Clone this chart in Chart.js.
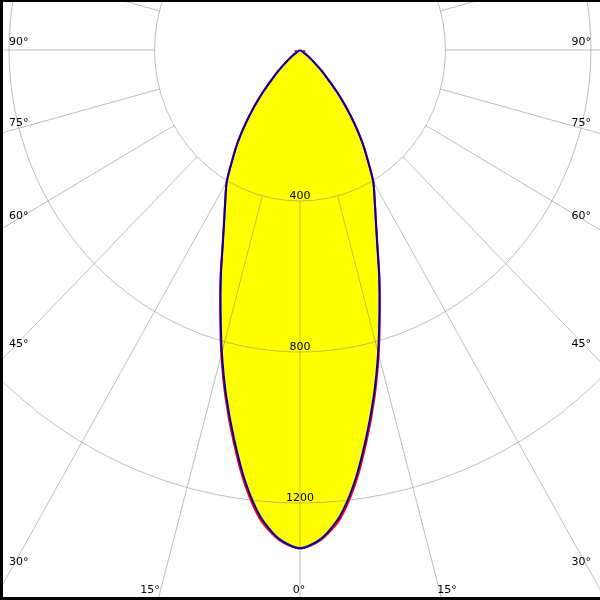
<!DOCTYPE html>
<html>
<head>
<meta charset="utf-8">
<script src="https://cdn.jsdelivr.net/npm/chart.js@4.4.1/dist/chart.umd.min.js"></script>
<style>
  html, body { margin: 0; padding: 0; background: #fff; }
  #wrap { width: 600px; height: 600px; position: relative; }
</style>
</head>
<body>
<div id="wrap"><canvas id="polar" width="600" height="600"></canvas></div>
<script>
// gamma angles (deg from nadir) and intensities (cd)
const gamma = [0, 2.5, 5, 7.5, 10, 12.5, 15, 17.5, 20, 22.5, 25, 27.5, 30, 32.5, 35, 37.5, 40, 42.5, 45, 47.5, 50, 52.5, 55, 57.5, 60, 70, 80, 90];
const planeC0 = [1320, 1297, 1242, 1153, 1045, 938, 830, 726, 636, 554, 492, 444, 403, 347, 298, 246, 196, 149, 106, 76, 48, 30, 16, 6, 0, 0, 0, 0];
const planeC90 = [1320, 1300, 1249, 1161, 1053, 945, 836, 730, 639, 556, 494, 445, 403, 348, 299, 247, 198, 151, 108, 79, 51, 33, 19, 11, 8, 10, 12, 12];

const rings = [400, 800, 1200];
const rayStep = 15;
const edgeLabels = [0, 15, 30, 45, 60, 75, 90];

// pixels per cd on each axis (diagram is a bit taller than wide)
const pxX = 0.3637, pxY = 0.3775;
const originX = 300, originY = 50;

function toPoints(values) {
  const pts = [];
  for (let i = gamma.length - 1; i > 0; i--) {
    const a = gamma[i] * Math.PI / 180;
    pts.push({ x: -values[i] * Math.sin(a), y: values[i] * Math.cos(a) });
  }
  for (let i = 0; i < gamma.length; i++) {
    const a = gamma[i] * Math.PI / 180;
    pts.push({ x: values[i] * Math.sin(a), y: values[i] * Math.cos(a) });
  }
  return pts;
}

const polarGrid = {
  id: 'polarGrid',
  beforeDatasetsDraw(chart) {
    const { ctx, scales: { x, y } } = chart;
    const cx = x.getPixelForValue(0), cy = y.getPixelForValue(0);
    ctx.save();
    ctx.strokeStyle = 'rgba(128,128,128,0.5)';
    ctx.lineWidth = 1;
    rings.forEach(v => {
      ctx.beginPath();
      ctx.ellipse(cx, cy, x.getPixelForValue(v) - cx, y.getPixelForValue(v) - cy, 0, 0, Math.PI * 2);
      ctx.stroke();
    });
    for (let g = 0; g < 360; g += rayStep) {
      const a = g * Math.PI / 180;
      const s = Math.sin(a), c = Math.cos(a);
      ctx.beginPath();
      ctx.moveTo(x.getPixelForValue(rings[0] * s), y.getPixelForValue(rings[0] * c));
      ctx.lineTo(x.getPixelForValue(5000 * s), y.getPixelForValue(5000 * c));
      ctx.stroke();
    }

    ctx.fillStyle = '#000';
    ctx.font = '11px "DejaVu Sans"';
    ctx.textBaseline = 'alphabetic';
    ctx.textAlign = 'center';
    rings.forEach(v => ctx.fillText(String(v), cx, y.getPixelForValue(v) - 2));

    // angle labels where the rays leave the frame
    edgeLabels.forEach(g => {
      const a = g * Math.PI / 180;
      const dxp = x.getPixelForValue(Math.sin(a)) - cx;
      const dyp = y.getPixelForValue(Math.cos(a)) - cy;
      const txt = g + '°';
      if (g === 0) {
        ctx.textAlign = 'center';
        ctx.fillText(txt, cx - 1, 593);
        return;
      }
      [-1, 1].forEach(side => {
        const edgeX = side < 0 ? 9 : 591;
        const t = Math.abs(edgeX - cx) / dxp;
        const yAt = cy + t * dyp;
        if (yAt < 590) {
          ctx.textAlign = side < 0 ? 'left' : 'right';
          ctx.fillText(txt, edgeX, Math.min(yAt - 5, 565));
        } else {
          const xAt = cx + side * (593 - cy) / dyp * dxp;
          ctx.textAlign = side < 0 ? 'right' : 'left';
          ctx.fillText(txt, side < 0 ? xAt : xAt - 3, 593);
        }
      });
    });
    ctx.restore();
  },
  afterDraw(chart) {
    const ctx = chart.ctx;
    ctx.save();
    ctx.fillStyle = '#000';
    ctx.fillRect(0, 0, 3, 600);
    ctx.fillRect(0, 0, 600, 2);
    ctx.fillRect(0, 597, 600, 3);
    ctx.restore();
  }
};

new Chart(document.getElementById('polar'), {
  type: 'scatter',
  data: {
    datasets: [
      {
        label: 'C0-C180',
        data: toPoints(planeC0),
        showLine: true,
        borderColor: '#0000b4',
        borderWidth: 2,
        backgroundColor: '#ffff00',
        fill: 'shape',
        pointRadius: 0,
        tension: 0.25
      },
      {
        label: 'C90-C270',
        data: toPoints(planeC90),
        showLine: true,
        borderColor: '#ff0000',
        borderWidth: 2,
        fill: false,
        pointRadius: 0,
        tension: 0.25
      }
    ]
  },
  options: {
    responsive: false,
    animation: false,
    events: [],
    layout: { padding: 0 },
    scales: {
      x: { display: false, min: -originX / pxX, max: (600 - originX) / pxX },
      y: { display: false, reverse: true, min: -originY / pxY, max: (600 - originY) / pxY }
    },
    plugins: {
      legend: { display: false },
      tooltip: { enabled: false },
      filler: { drawTime: 'beforeDatasetsDraw' }
    }
  },
  plugins: [polarGrid]
});
</script>
</body>
</html>
